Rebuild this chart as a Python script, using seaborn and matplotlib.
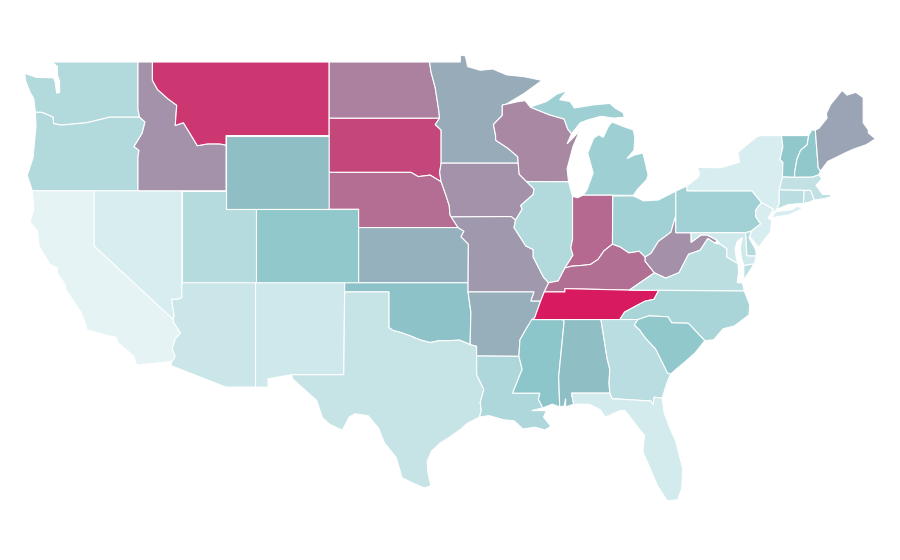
import seaborn as sns
import matplotlib.pyplot as plt

# state value (0 = palest, 100 = Tennessee)
state_names = ['WA', 'OR', 'CA', 'NV', 'ID', 'MT', 'WY', 'UT', 'AZ', 'CO', 'NM', 'ND', 'SD', 'NE', 'KS', 'OK', 'TX',
               'MN', 'IA', 'MO', 'AR', 'LA', 'WI', 'IL', 'MS', 'MI', 'MI2', 'IN', 'KY', 'TN', 'AL', 'OH', 'WV', 'VA', 'VA2',
               'NC', 'SC', 'GA', 'FL', 'PA', 'NY', 'NY2', 'VT', 'NH', 'ME', 'MA', 'CT', 'RI', 'NJ', 'DE', 'MD']
state_values = [29, 29, 1, 8, 65, 92, 52, 27, 16, 48, 13, 70, 87, 76, 56, 51, 18,
                58, 65, 63, 57, 31, 68, 29, 50, 40, 40, 77, 75, 100, 52, 38, 66, 24, 24,
                34, 48, 25, 10, 38, 8, 8, 48, 48, 60, 21, 25, 21, 8, 28, 13]

# outlines in lon / lat
WA = [(-122.85, 49), (-117.03, 49), (-117.03, 46.42), (-116.92, 46), (-118.98, 46), (-119.3, 45.93), (-120.5, 45.7),
      (-121.2, 45.65), (-122.2, 45.57), (-122.76, 45.65), (-122.8, 46), (-123.2, 46.15), (-123.55, 46.26), (-124, 46.27),
      (-124.05, 46.65), (-124.1, 47), (-124.35, 47.35), (-124.65, 47.95), (-124.72, 48.38), (-123.9, 48.16),
      (-123.1, 48.15), (-122.75, 48.13), (-122.65, 47.9), (-122.55, 47.3), (-122.35, 47.35), (-122.35, 47.95),
      (-122.5, 48.3), (-122.5, 48.75)]
OR = [(-124, 46.27), (-123.55, 46.26), (-123.2, 46.15), (-122.8, 46), (-122.76, 45.65), (-122.2, 45.57), (-121.2, 45.65),
      (-120.5, 45.7), (-119.3, 45.93), (-118.98, 46), (-116.92, 46), (-116.55, 45.74), (-116.75, 45.12), (-117.3, 44.4),
      (-116.96, 44.2), (-117.03, 43.85), (-117.03, 42), (-124.2, 42), (-124.55, 42.84), (-124.15, 43.8), (-124.05, 44.7),
      (-123.95, 45.5)]
CA = [(-124.2, 42), (-120, 42), (-120, 39), (-114.63, 35), (-114.6, 34.85), (-114.15, 34.27), (-114.5, 33.95),
      (-114.7, 33.4), (-114.5, 33), (-114.72, 32.72), (-117.12, 32.53), (-117.3, 33), (-118.4, 33.75), (-118.5, 34.03),
      (-119.2, 34.15), (-120.5, 34.45), (-120.65, 34.9), (-120.9, 35.4), (-121.9, 36.6), (-122, 36.95), (-122.5, 37.5),
      (-122.5, 37.8), (-123, 38), (-123.75, 39), (-123.85, 39.8), (-124.35, 40.3), (-124.1, 41)]
NV = [(-120, 42), (-114.05, 42), (-114.05, 36.2), (-114.3, 36.1), (-114.75, 36.1), (-114.57, 35.2), (-114.63, 35), (-120, 39)]
ID = [(-117.03, 49), (-116.05, 49), (-116.05, 48), (-115.7, 47.5), (-115, 47), (-114.4, 46.65), (-114.5, 45.55),
      (-113.95, 45.7), (-113.45, 45.05), (-113, 44.45), (-112.3, 44.55), (-111.5, 44.55), (-111.05, 44.48), (-111.05, 42),
      (-117.03, 42), (-117.03, 43.85), (-116.96, 44.2), (-117.3, 44.4), (-116.75, 45.12), (-116.55, 45.74), (-116.92, 46),
      (-117.03, 46.42)]
MT = [(-116.05, 49), (-104.05, 49), (-104.05, 45), (-111.05, 45), (-111.05, 44.48), (-111.5, 44.55), (-112.3, 44.55),
      (-113, 44.45), (-113.45, 45.05), (-113.95, 45.7), (-114.5, 45.55), (-114.4, 46.65), (-115, 47), (-115.7, 47.5),
      (-116.05, 48)]
WY = [(-111.05, 45), (-104.05, 45), (-104.05, 41), (-111.05, 41)]
UT = [(-114.05, 42), (-111.05, 42), (-111.05, 41), (-109.05, 41), (-109.05, 37), (-114.05, 37)]
AZ = [(-114.05, 37), (-109.05, 37), (-109.05, 31.33), (-111.07, 31.33), (-114.8, 32.5), (-114.72, 32.72), (-114.5, 33),
      (-114.7, 33.4), (-114.5, 33.95), (-114.15, 34.27), (-114.6, 34.85), (-114.63, 35), (-114.57, 35.2), (-114.75, 36.1),
      (-114.3, 36.1), (-114.05, 36.2)]
CO = [(-109.05, 41), (-102.05, 41), (-102.05, 37), (-109.05, 37)]
NM = [(-109.05, 37), (-103, 37), (-103.06, 32), (-106.62, 32), (-108.2, 31.78), (-108.2, 31.33), (-109.05, 31.33)]
ND = [(-104.05, 49), (-97.23, 49), (-97.15, 48.5), (-96.85, 47.6), (-96.6, 46.3), (-96.56, 45.94), (-104.05, 45.94)]
SD = [(-104.05, 45.94), (-96.56, 45.94), (-96.85, 45.6), (-96.45, 45.3), (-96.45, 43.5), (-96.55, 43), (-96.45, 42.49),
      (-97.2, 42.85), (-98, 42.77), (-98.5, 43), (-104.05, 43)]
NE = [(-104.05, 43), (-98.5, 43), (-98, 42.77), (-97.2, 42.85), (-96.45, 42.49), (-96.1, 41.7), (-95.9, 41.2), (-95.85, 40.7),
      (-95.3, 40), (-102.05, 40), (-102.05, 41), (-104.05, 41)]
KS = [(-102.05, 40), (-95.3, 40), (-94.9, 39.8), (-95.1, 39.5), (-94.6, 39.1), (-94.62, 37), (-102.05, 37)]
OK = [(-103, 37), (-94.62, 37), (-94.62, 36.5), (-94.43, 35.4), (-94.48, 33.64), (-95.2, 33.88), (-96, 33.85), (-96.6, 33.85),
      (-97.2, 33.75), (-97.9, 33.9), (-98.5, 34.1), (-99.2, 34.3), (-99.7, 34.4), (-100, 34.56), (-100, 36.5), (-103, 36.5)]
TX = [(-103, 36.5), (-100, 36.5), (-100, 34.56), (-99.7, 34.4), (-99.2, 34.3), (-98.5, 34.1), (-97.9, 33.9), (-97.2, 33.75),
      (-96.6, 33.85), (-96, 33.85), (-95.2, 33.88), (-94.48, 33.64), (-94.04, 33.55), (-94.04, 32), (-93.55, 31.2),
      (-93.8, 30.5), (-93.72, 30.05), (-93.85, 29.7), (-94.7, 29.35), (-95.1, 29.05), (-95.9, 28.6), (-96.5, 28.3),
      (-97.1, 27.85), (-97.4, 27.3), (-97.35, 26.7), (-97.15, 25.96), (-97.6, 25.85), (-98.2, 26.05), (-99.1, 26.4),
      (-99.5, 27.5), (-100.3, 28.3), (-100.7, 29.1), (-101.4, 29.77), (-102.3, 29.88), (-102.7, 29.7), (-103.15, 28.98),
      (-104, 29.3), (-104.5, 29.65), (-104.9, 30.6), (-106.5, 31.75), (-106.62, 32), (-103.06, 32)]
MN = [(-97.23, 49), (-95.15, 49), (-95.15, 49.38), (-94.8, 49.33), (-94.65, 48.75), (-93.8, 48.55), (-92.95, 48.62),
      (-92, 48.3), (-90.8, 48.2), (-89.6, 48), (-90.8, 47.3), (-92.05, 46.7), (-92.3, 46.66), (-92.3, 46.1), (-92.9, 45.6),
      (-92.75, 45), (-92.75, 44.75), (-91.9, 44.3), (-91.25, 43.85), (-91.22, 43.5), (-96.45, 43.5), (-96.45, 45.3),
      (-96.85, 45.6), (-96.56, 45.94), (-96.6, 46.3), (-96.85, 47.6), (-97.15, 48.5)]
IA = [(-96.45, 43.5), (-91.22, 43.5), (-91.15, 42.9), (-90.65, 42.5), (-90.15, 42.1), (-90.2, 41.8), (-91.05, 41.2),
      (-90.95, 41), (-91.4, 40.4), (-91.7, 40.6), (-95.77, 40.58), (-95.85, 40.7), (-95.9, 41.2), (-96.1, 41.7),
      (-96.45, 42.49), (-96.55, 43)]
MO = [(-95.77, 40.58), (-91.7, 40.6), (-91.4, 40.4), (-91.5, 40), (-90.7, 39), (-90.2, 38.8), (-90.2, 38.4), (-89.5, 37.3),
      (-89.15, 37), (-89.45, 36.5), (-89.7, 36), (-90.37, 36), (-90.15, 36.5), (-94.62, 36.5), (-94.62, 37), (-94.6, 39.1),
      (-95.1, 39.5), (-94.9, 39.8), (-95.3, 40)]
AR = [(-94.62, 36.5), (-90.15, 36.5), (-90.37, 36), (-89.7, 36), (-90.1, 35.1), (-90.6, 34.6), (-91.1, 33.9), (-91.17, 33),
      (-94.04, 33.02), (-94.04, 33.55), (-94.48, 33.64), (-94.43, 35.4)]
LA = [(-94.04, 33.02), (-91.17, 33), (-90.95, 32.3), (-91.6, 31), (-89.75, 31), (-89.85, 30.67), (-89.55, 30.2),
      (-90.3, 30.05), (-89.3, 30.05), (-89.5, 29.7), (-89, 29.2), (-89.4, 29), (-90.1, 29.15), (-90.9, 29.05), (-91.5, 29.5),
      (-92.2, 29.55), (-93.2, 29.78), (-93.85, 29.7), (-93.72, 30.05), (-93.8, 30.5), (-93.55, 31.2), (-94.04, 32)]
WI = [(-90.65, 42.5), (-87.8, 42.49), (-87.9, 43.2), (-87.7, 43.8), (-87.5, 44.4), (-87.05, 45.25), (-87.9, 44.55),
      (-87.6, 45.1), (-87.85, 45.35), (-88.1, 45.9), (-89.1, 46.13), (-90.4, 46.55), (-90.75, 46.9), (-91.2, 46.85),
      (-92.05, 46.7), (-92.3, 46.66), (-92.3, 46.1), (-92.9, 45.6), (-92.75, 45), (-92.75, 44.75), (-91.9, 44.3),
      (-91.25, 43.85), (-91.22, 43.5), (-91.15, 42.9)]
IL = [(-87.53, 41.7), (-87.8, 42.49), (-90.65, 42.5), (-90.15, 42.1), (-90.2, 41.8), (-91.05, 41.2), (-90.95, 41),
      (-91.4, 40.4), (-91.5, 40), (-90.7, 39), (-90.2, 38.8), (-90.2, 38.4), (-89.5, 37.3), (-89.15, 37), (-88.5, 37.1),
      (-88.05, 37.8), (-87.5, 38.5), (-87.65, 38.9), (-87.53, 39.35)]
MS = [(-90.3, 35), (-88.2, 35), (-88.1, 34.9), (-88.47, 31.9), (-88.4, 30.25), (-88.9, 30.4), (-89.55, 30.2), (-89.85, 30.67),
      (-89.75, 31), (-91.6, 31), (-90.95, 32.3), (-91.17, 33), (-91.1, 33.9), (-90.6, 34.6)]
MI = [(-84.8, 41.76), (-83.4, 41.75), (-83.15, 42.05), (-82.5, 42.6), (-82.4, 42.86), (-82.55, 43.4), (-82.75, 44.05),
      (-83.3, 43.95), (-83.83, 43.75), (-83.36, 44.2), (-83.3, 44.9), (-83.4, 45.3), (-84.1, 45.5), (-84.85, 45.74),
      (-85.1, 45.5), (-85.45, 44.9), (-85.75, 45.05), (-86.1, 44.85), (-86.5, 44.05), (-86.13, 42.97), (-86.55, 42.05),
      (-86.82, 41.76)]
MI2 = [(-90.4, 46.55), (-89.1, 46.13), (-88.1, 45.9), (-87.85, 45.35), (-87.6, 45.1), (-87, 45.7), (-86.5, 45.85),
       (-85.6, 46.05), (-84.75, 45.95), (-84, 46), (-84.1, 46.25), (-84.6, 46.47), (-85, 46.75), (-86.1, 46.67), (-87.4, 46.5),
       (-87.7, 46.85), (-88.4, 46.95), (-87.9, 47.45), (-88.6, 47.25), (-89.3, 46.85)]
IN = [(-88.05, 37.8), (-87.6, 37.9), (-86.8, 37.95), (-86.3, 38), (-85.8, 38.27), (-85.4, 38.73), (-84.82, 39.1), (-84.8, 41.76),
      (-86.82, 41.76), (-87.2, 41.62), (-87.53, 41.7), (-87.53, 39.35), (-87.65, 38.9), (-87.5, 38.5)]
KY = [(-89.45, 36.5), (-88.05, 36.5), (-88.05, 36.68), (-83.68, 36.6), (-81.97, 37.54), (-82.6, 38.17), (-82.6, 38.4),
      (-83, 38.72), (-83.7, 38.63), (-84.3, 38.95), (-84.82, 39.1), (-85.4, 38.73), (-85.8, 38.27), (-86.3, 38), (-86.8, 37.95),
      (-87.6, 37.9), (-88.05, 37.8), (-88.5, 37.1), (-89.15, 37)]
TN = [(-90.3, 35), (-84.32, 35), (-84, 35.4), (-83.2, 35.75), (-82.6, 36), (-82, 36.1), (-81.68, 36.59), (-83.68, 36.6),
      (-88.05, 36.68), (-88.05, 36.5), (-89.45, 36.5), (-89.7, 36), (-90.1, 35.1)]
AL = [(-88.2, 35), (-85.6, 35), (-85.18, 32.87), (-85, 32.3), (-85.05, 31.55), (-85, 31), (-87.6, 31), (-87.45, 30.4),
      (-88, 30.25), (-88, 30.7), (-88.1, 30.3), (-88.4, 30.25), (-88.47, 31.9), (-88.1, 34.9)]
OH = [(-84.8, 41.72), (-83.4, 41.72), (-82.7, 41.45), (-81.7, 41.5), (-80.52, 41.98), (-80.52, 40.64), (-80.65, 40.3),
      (-80.85, 39.75), (-81.7, 39.25), (-82.2, 38.6), (-82.6, 38.4), (-83, 38.72), (-83.7, 38.63), (-84.3, 38.95), (-84.82, 39.1)]
WV = [(-80.52, 40.64), (-80.52, 39.72), (-79.48, 39.72), (-79.48, 39.2), (-78.8, 39.6), (-78.4, 39.6), (-77.75, 39.33),
      (-77.83, 39.14), (-78.35, 39.4), (-78.87, 38.77), (-79.65, 38.55), (-80.3, 37.55), (-81.2, 37.25), (-81.97, 37.54),
      (-82.6, 38.17), (-82.6, 38.4), (-82.2, 38.6), (-81.7, 39.25), (-80.85, 39.75), (-80.65, 40.3)]
VA = [(-83.68, 36.6), (-81.68, 36.59), (-75.87, 36.55), (-76, 37), (-76.35, 37), (-76.25, 37.6), (-76.3, 38.05), (-77.05, 38.4),
      (-77.05, 38.85), (-77.5, 39.1), (-77.83, 39.14), (-78.35, 39.4), (-78.87, 38.77), (-79.65, 38.55), (-80.3, 37.55),
      (-81.2, 37.25), (-81.97, 37.54)]
VA2 = [(-75.9, 37.95), (-75.2, 38.03), (-75.9, 37.15)]
NC = [(-75.87, 36.55), (-81.68, 36.59), (-82, 36.1), (-82.6, 36), (-83.2, 35.75), (-84, 35.4), (-84.32, 35), (-83.1, 35),
      (-82.35, 35.2), (-81.05, 35.15), (-80.8, 34.82), (-79.67, 34.8), (-78.55, 33.85), (-77.95, 33.9), (-77.3, 34.5),
      (-76.55, 34.65), (-75.55, 35.25), (-75.5, 35.8)]
SC = [(-83.35, 34.7), (-83.1, 35), (-82.35, 35.2), (-81.05, 35.15), (-80.8, 34.82), (-79.67, 34.8), (-78.55, 33.85),
      (-79.2, 33.2), (-79.9, 32.7), (-80.5, 32.3), (-80.88, 32.03), (-81.1, 32.1), (-81.4, 32.6), (-81.9, 33.4), (-82.6, 34),
      (-83, 34.45)]
GA = [(-85.6, 35), (-83.1, 35), (-83.35, 34.7), (-83, 34.45), (-82.6, 34), (-81.9, 33.4), (-81.4, 32.6), (-81.1, 32.1),
      (-80.88, 32.03), (-81.15, 31.5), (-81.45, 30.72), (-82, 30.78), (-82.05, 30.37), (-82.2, 30.57), (-84.85, 30.7), (-85, 31),
      (-85.05, 31.55), (-85, 32.3), (-85.18, 32.87)]
FL = [(-87.6, 31), (-85, 31), (-84.85, 30.7), (-82.2, 30.57), (-82.05, 30.37), (-82, 30.78), (-81.45, 30.72), (-81.3, 29.9),
      (-80.9, 29.05), (-80.55, 28.45), (-80.05, 26.9), (-80.12, 25.8), (-80.4, 25.2), (-81.1, 25.15), (-81.75, 25.95),
      (-82.15, 26.7), (-82.75, 27.8), (-82.65, 28.7), (-83.1, 29.15), (-83.95, 30.05), (-84.3, 30.05), (-85.3, 29.7),
      (-85.65, 30.1), (-86.4, 30.4), (-87.45, 30.4)]
PA = [(-80.52, 41.98), (-79.76, 42.27), (-79.76, 42), (-75.35, 42), (-74.7, 41.36), (-75.1, 40.95), (-75.1, 40.6), (-74.75, 40.2),
      (-75.4, 39.8), (-75.79, 39.72), (-80.52, 39.72), (-80.52, 40.64)]
NY = [(-79.76, 42.27), (-79.05, 42.7), (-78.9, 42.9), (-79.05, 43.27), (-77.5, 43.25), (-76.2, 43.55), (-76.3, 44.1), (-75, 44.95),
      (-74.7, 45), (-73.35, 45), (-73.25, 44.4), (-73.45, 43.7), (-73.25, 43.55), (-73.28, 42.75), (-73.5, 42.05), (-73.5, 41.3),
      (-73.65, 41), (-74, 40.7), (-73.9, 41), (-74.7, 41.36), (-75.35, 42), (-79.76, 42)]
NY2 = [(-74, 40.6), (-73.7, 40.87), (-72.6, 40.98), (-72.3, 41.15), (-71.9, 41.05), (-72.8, 40.7), (-73.9, 40.55)]
VT = [(-73.35, 45), (-71.5, 45), (-71.6, 44.5), (-72.05, 44.2), (-72.3, 43.7), (-72.45, 43), (-72.46, 42.73), (-73.28, 42.75),
      (-73.25, 43.55), (-73.45, 43.7), (-73.25, 44.4)]
NH = [(-71.5, 45), (-71.3, 45.3), (-71.05, 45.3), (-70.85, 43.25), (-70.7, 43.07), (-70.82, 42.87), (-71.25, 42.74),
      (-72.46, 42.73), (-72.45, 43), (-72.3, 43.7), (-72.05, 44.2), (-71.6, 44.5)]
ME = [(-71.05, 45.3), (-70.8, 45.4), (-70.25, 45.95), (-70.3, 46.2), (-70, 46.7), (-69.23, 47.46), (-68.9, 47.2), (-68.3, 47.35),
      (-67.8, 47.07), (-67.8, 45.7), (-67.45, 45.3), (-67.45, 45.15), (-66.97, 44.82), (-67.6, 44.5), (-68.5, 44.25),
      (-69.05, 44.05), (-69.8, 43.75), (-70.2, 43.6), (-70.7, 43.07), (-70.85, 43.25)]
MA = [(-73.5, 42.05), (-73.28, 42.75), (-72.46, 42.73), (-71.25, 42.74), (-70.82, 42.87), (-70.6, 42.65), (-71, 42.3),
      (-70.55, 41.8), (-70.05, 41.8), (-70, 41.65), (-70.65, 41.55), (-71.12, 41.5), (-71.38, 42.02), (-71.8, 42.02)]
CT = [(-73.5, 42.05), (-71.8, 42.02), (-71.85, 41.32), (-72.9, 41.25), (-73.65, 41), (-73.5, 41.3)]
RI = [(-71.8, 42.02), (-71.38, 42.02), (-71.12, 41.5), (-71.5, 41.37), (-71.85, 41.32)]
NJ = [(-74.7, 41.36), (-73.9, 41), (-74.25, 40.5), (-74, 40.4), (-74.1, 39.75), (-74.9, 38.93), (-75.5, 39.5), (-75.4, 39.8),
      (-74.75, 40.2), (-75.1, 40.6), (-75.1, 40.95)]
DE = [(-75.79, 39.72), (-75.4, 39.8), (-75.55, 39.45), (-75.1, 38.8), (-75.05, 38.45), (-75.7, 38.46)]
MD = [(-79.48, 39.72), (-75.79, 39.72), (-75.7, 38.46), (-75.05, 38.45), (-75.2, 38.03), (-75.9, 37.95), (-76.05, 38.3),
      (-76.15, 38.9), (-76, 39.45), (-76.35, 39.25), (-76.5, 38.85), (-76.4, 38.3), (-76.3, 38.05), (-77.05, 38.4),
      (-77.05, 38.85), (-77.5, 39.1), (-77.75, 39.33), (-78.4, 39.6), (-78.8, 39.6), (-79.48, 39.2)]

sns.set_theme(style='white')
cmap = sns.blend_palette(['#e6f4f6', '#8cc6ca', '#d81b60'], n_colors=256, as_cmap=True)

fig, ax = plt.subplots(figsize=(9, 5.6), dpi=100)
ax.set_position([0, 0, 1, 1])

for name, value in zip(state_names, state_values):
    outline = globals()[name]
    lons = [p[0] for p in outline]
    lats = [p[1] for p in outline]
    ax.fill(lons, lats, color=cmap(value / 100), edgecolor='white', linewidth=0.8)

ax.set_xlim(-126.397, -65.30)
ax.set_ylim(21.93, 52.37)
ax.axis('off')

fig.savefig('out.png', dpi=100)
